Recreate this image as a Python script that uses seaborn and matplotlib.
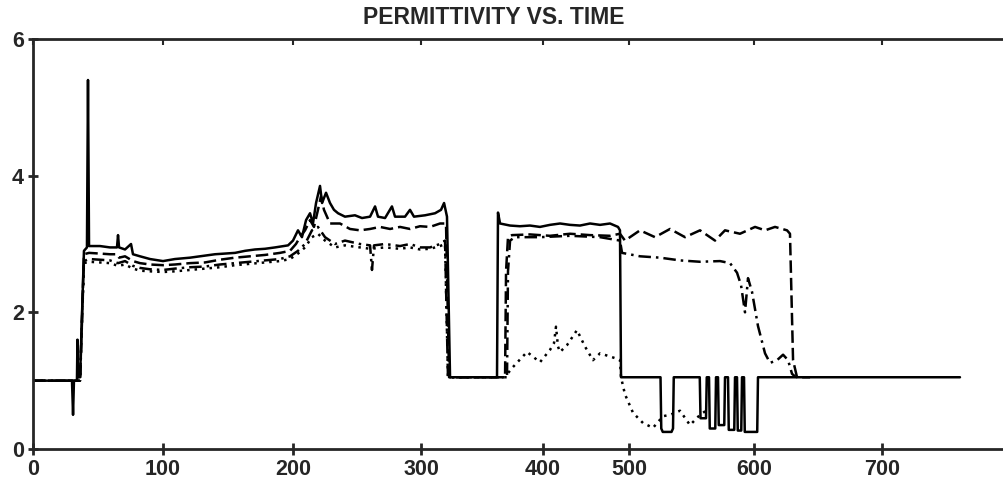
import numpy as np
import pandas as pd
import matplotlib
matplotlib.use("Agg")
import matplotlib.pyplot as plt
import seaborn as sns

# ---- data: time (s) and relative permittivity for the four traces ----
t_solid = [0, 30.0, 30.8, 31.5, 33.8, 34.2, 34.6, 36.2, 39.2, 41.5, 42.3, 43.1, 51.5, 59.2,
           64.6, 65.4, 66.2, 70.8, 75.4, 76.9, 82.3, 90.0, 100, 109.2, 120.8, 132.3, 140,
           147.7, 155.4, 163.1, 170.8, 178.5, 186.2, 196.2, 200, 203.9, 207.0, 210.2, 213.3,
           215.6, 218.0, 221.1, 222.7, 225.8, 228.9, 232.0, 235.2, 240.6, 248.4, 253.9, 260.2,
           264.1, 266.4, 271.9, 277.3, 279.7, 287.5, 291.4, 294.5, 303.3, 311.5, 316.4, 318.9,
           321.3, 323.8, 362.3, 363.1, 364.8, 373.0, 381.1, 389.3, 397.5, 408.1, 419.8, 431.4,
           443.0, 454.7, 466.3, 477.9, 487.2, 489.5, 490.7, 525.2, 525.8, 527.0, 534.0, 535.2,
           535.8, 556.6, 557.2, 561.6, 562.2, 564.0, 564.6, 569.0, 569.6, 571.2, 571.8, 576.2,
           576.8, 579.2, 579.8, 584.2, 584.8, 586.4, 587.0, 589.8, 590.4, 592.0, 592.6, 602.5,
           603.1, 760.9]
e_solid = [1.0, 1.0, 0.5, 1.0, 1.0, 1.6, 1.05, 1.05, 2.9, 2.95, 5.4, 2.97, 2.97, 2.95,
           2.95, 3.13, 2.95, 2.92, 3.0, 2.85, 2.82, 2.78, 2.75, 2.78, 2.8, 2.83, 2.85,
           2.86, 2.87, 2.9, 2.92, 2.93, 2.95, 2.98, 3.05, 3.2, 3.1, 3.35, 3.45,
           3.3, 3.6, 3.85, 3.6, 3.75, 3.6, 3.5, 3.45, 3.4, 3.42, 3.38, 3.4,
           3.55, 3.4, 3.38, 3.55, 3.4, 3.4, 3.5, 3.4, 3.42, 3.45, 3.5, 3.6,
           3.4, 1.05, 1.05, 3.46, 3.3, 3.27, 3.26, 3.27, 3.25, 3.28, 3.3, 3.28,
           3.27, 3.3, 3.28, 3.3, 3.25, 3.2, 1.05, 1.05, 0.3, 0.25, 0.25, 0.3,
           1.05, 1.05, 0.45, 0.45, 1.05, 1.05, 0.3, 0.3, 1.05, 1.05, 0.35, 0.35,
           1.05, 1.05, 0.28, 0.28, 1.05, 1.05, 0.27, 0.27, 1.05, 1.05, 0.25, 0.25,
           1.05, 1.05]

t_dashed = [0, 36.2, 39.2, 43.1, 51.5, 59.2, 64.6, 66.2, 70.8, 76.9, 82.3, 90.0, 100, 109.2,
            120.8, 132.3, 143.8, 155.4, 166.9, 178.5, 190.0, 197.7, 202.3, 205.5, 209.4,
            213.3, 216.4, 219.5, 221.9, 224.2, 228.9, 236.7, 244.5, 252.3, 260.2, 267.9,
            275.8, 283.6, 291.4, 299.2, 307.4, 315.6, 320.5, 323.0, 362.3, 368.9, 369.7,
            371.3, 374.6, 389.3, 408.1, 431.4, 454.7, 477.9, 489.5, 495.3, 508.8, 520.8,
            532.8, 544.8, 556.8, 568.8, 576.8, 588.8, 600.8, 608.6, 616.4, 625.8, 628.1,
            630.5, 633.6, 643.8]
e_dashed = [1.0, 1.0, 2.85, 2.87, 2.86, 2.85, 2.85, 2.8, 2.82, 2.75, 2.72, 2.7, 2.69, 2.7,
            2.72, 2.73, 2.77, 2.8, 2.82, 2.84, 2.87, 2.9, 3.0, 3.1, 3.2,
            3.35, 3.25, 3.5, 3.7, 3.5, 3.3, 3.3, 3.22, 3.2, 3.22, 3.25,
            3.22, 3.25, 3.22, 3.26, 3.25, 3.3, 3.3, 1.05, 1.05, 1.05, 2.6,
            3.1, 3.13, 3.14, 3.12, 3.15, 3.13, 3.12, 3.15, 3.05, 3.2, 3.1,
            3.22, 3.1, 3.2, 3.05, 3.2, 3.15, 3.25, 3.2, 3.25, 3.2, 3.15,
            1.3, 1.05, 1.05]

t_dashdot = [0, 36.2, 39.2, 43.1, 51.5, 59.2, 65.4, 70.8, 76.9, 82.3, 90.0, 100, 109.2,
             120.8, 132.3, 143.8, 155.4, 166.9, 178.5, 190.0, 197.7, 203.9, 209.4, 214.8,
             219.5, 225.0, 232.8, 240.6, 252.3, 260.2, 261.7, 263.3, 271.9, 283.6, 291.4,
             299.2, 307.4, 315.6, 319.7, 322.1, 362.3, 370.5, 371.3, 373.0, 377.0, 397.5,
             431.4, 466.3, 489.5, 491.9, 508.8, 524.8, 540.8, 556.8, 572.8, 580.8, 586.4,
             589.6, 592.8, 595.2, 598.4, 603.1, 608.6, 612.5, 618.0, 622.7, 626.6, 629.7,
             632.8]
e_dashdot = [1.0, 1.0, 2.75, 2.78, 2.77, 2.76, 2.72, 2.75, 2.68, 2.65, 2.63, 2.62, 2.64,
             2.66, 2.67, 2.7, 2.72, 2.74, 2.76, 2.78, 2.82, 2.9, 3.0, 3.2,
             3.25, 3.1, 3.0, 3.05, 3.0, 2.98, 2.62, 2.98, 3.0, 2.97, 3.0,
             2.95, 2.95, 3.0, 3.05, 1.05, 1.05, 1.05, 2.6, 3.05, 3.1, 3.1,
             3.12, 3.1, 3.05, 2.87, 2.82, 2.8, 2.76, 2.74, 2.75, 2.72, 2.58,
             2.4, 2.0, 2.5, 2.3, 1.8, 1.4, 1.26, 1.3, 1.38, 1.3, 1.1,
             1.05]

t_dotted = [0, 36.2, 39.2, 43.1, 51.5, 59.2, 65.4, 70.8, 76.9, 82.3, 90.0, 100, 109.2,
            120.8, 132.3, 143.8, 155.4, 166.9, 178.5, 190.0, 197.7, 203.9, 209.4, 214.8,
            219.5, 225.0, 232.8, 240.6, 252.3, 260.2, 271.9, 283.6, 291.4, 299.2, 307.4,
            315.6, 319.7, 322.1, 362.3, 370.5, 371.3, 375.4, 386.9, 397.5, 408.1, 412.8,
            415.1, 417.4, 419.8, 427.9, 439.5, 448.8, 458.1, 466.3, 483.7, 489.5, 490.7,
            495.3, 503.2, 511.2, 519.2, 527.2, 532.8, 540.8, 548.8, 556.8, 563.2]
e_dotted = [1.0, 1.0, 2.72, 2.74, 2.73, 2.72, 2.68, 2.7, 2.64, 2.61, 2.6, 2.59, 2.6,
            2.62, 2.64, 2.66, 2.69, 2.71, 2.73, 2.75, 2.78, 2.86, 2.95, 3.1,
            3.15, 3.05, 2.95, 2.98, 2.95, 2.93, 2.95, 2.93, 2.95, 2.92, 2.93,
            2.97, 3.0, 1.05, 1.05, 1.05, 1.11, 1.2, 1.42, 1.27, 1.45, 1.55,
            1.79, 1.5, 1.42, 1.52, 1.74, 1.5, 1.3, 1.4, 1.33, 1.3, 1.05,
            0.8, 0.53, 0.38, 0.31, 0.48, 0.5, 0.56, 0.35, 0.5, 0.58]

x_ticks = [0, 100, 200, 300, 400, 500, 600, 700]
y_ticks = [0, 2, 4, 6]
title = "PERMITTIVITY VS. TIME"

# time axis of the chart recorder is not evenly spaced: knots of the
# piecewise-linear scale (time -> chart position)
SCALE_T = [-100, 0, 100, 200, 300, 400, 500, 600, 700, 800]
SCALE_P = [-97, 33, 163, 293, 421, 543, 629, 754, 882, 1010]


def fwd(t):
    return np.interp(t, SCALE_T, SCALE_P)


def inv(p):
    return np.interp(p, SCALE_P, SCALE_T)


sns.set_style("ticks")
plt.rcParams["font.family"] = ["Liberation Sans", "DejaVu Sans"]
plt.rcParams["font.weight"] = "bold"

traces = [
    (t_solid, e_solid, "-"),
    (t_dashed, e_dashed, (0, (5, 2))),
    (t_dashdot, e_dashdot, (0, (5, 2, 1, 2))),
    (t_dotted, e_dotted, (0, (1, 2))),
]

fig = plt.figure(figsize=(10.04, 4.82), dpi=100)
ax = fig.add_axes([33 / 1004, 33 / 482, 971 / 1004, 410 / 482])

for t, e, ls in traces:
    df = pd.DataFrame({"time": t, "eps": e})
    sns.lineplot(data=df, x="time", y="eps", ax=ax, color="black", lw=1.8,
                 linestyle=ls, estimator=None, sort=False)

ax.set_xscale("function", functions=(fwd, inv))
ax.set_xlim(0, 795.3)
ax.set_ylim(0, 6)
ax.set_xticks(x_ticks)
ax.set_xticklabels([str(v) for v in x_ticks])
ax.set_yticks(y_ticks)
ax.set_yticklabels([str(v) for v in y_ticks])
ax.set_xlabel("")
ax.set_ylabel("")
ax.tick_params(axis="x", direction="inout", length=9, width=2, pad=3, labelsize=15.5)
ax.tick_params(axis="y", direction="inout", length=7, width=2, pad=3, labelsize=15.5)
for side in ("left", "bottom", "top"):
    ax.spines[side].set_linewidth(2)
ax.spines["right"].set_visible(False)

# small downward ticks along the upper frame
ax2 = ax.twiny()
ax2.set_xscale("function", functions=(fwd, inv))
ax2.set_xlim(ax.get_xlim())
ax2.set_xticks(x_ticks)
ax2.tick_params(axis="x", direction="in", length=4, width=1.5, labeltop=False)
for s in ax2.spines.values():
    s.set_visible(False)

fig.text(494 / 1004, 1 - 18 / 482, title, ha="center", va="center",
         fontsize=16.5, fontweight="bold")

fig.savefig("out.png", dpi=100)
